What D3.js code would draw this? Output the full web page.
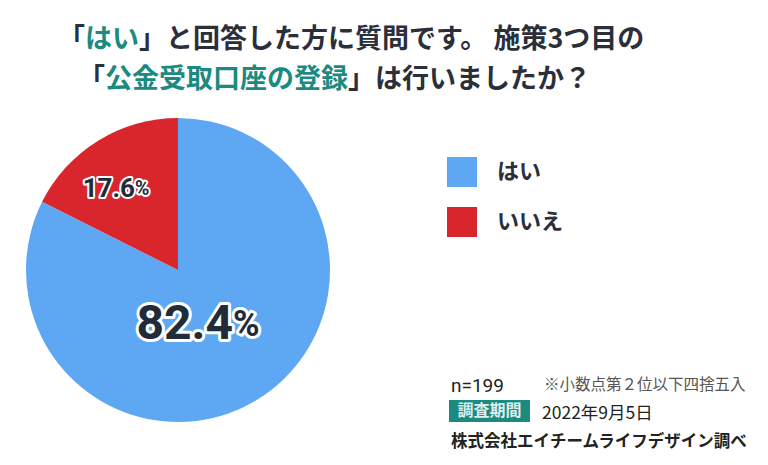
<!DOCTYPE html>
<html><head><meta charset="utf-8">
<script src="https://cdn.jsdelivr.net/npm/d3@7"></script>
<style>body{margin:0;background:#fff}svg{font-family:"Noto Sans CJK JP",sans-serif}</style>
</head><body>
<script>
const categories = ["はい", "いいえ"];
const values = [82.4, 17.6];
const colors = ["#5ea7f3", "#d8262c"];

const svg = d3.select("body").append("svg").attr("width", 768).attr("height", 465);

// title
const teal = "#1b8a80", dark = "#2a2f3a";
const t1 = svg.append("text").attr("x", 58).attr("y", 48).attr("font-size", 27).attr("font-weight", "bold").attr("fill", dark);
t1.append("tspan").text("「");
t1.append("tspan").attr("fill", teal).text("はい");
t1.append("tspan").text("」と回答した方に質問です。 施策3つ目の");
const t2 = svg.append("text").attr("x", 78).attr("y", 88).attr("font-size", 27).attr("font-weight", "bold").attr("fill", dark);
t2.append("tspan").text("「");
t2.append("tspan").attr("fill", teal).text("公金受取口座の登録");
t2.append("tspan").text("」は行いましたか？");

// pie: red counterclockwise from 12 o'clock, blue clockwise
const cx = 178, cy = 270, r = 152;
const pie = d3.pie().sort(null).value(d => d)
  .startAngle(0).endAngle(2 * Math.PI);
const arcs = pie(values);
const arc = d3.arc().innerRadius(0).outerRadius(r);
const g = svg.append("g").attr("transform", `translate(${cx},${cy})`);
g.selectAll("path").data(arcs).join("path")
  .attr("d", arc).attr("fill", (d, i) => colors[i]);

const labelPos = [[20, 56], [-62, -80]];
const sizes = [48, 26];
arcs.forEach((d, i) => {
  const t = g.append("text").attr("x", labelPos[i][0]).attr("y", labelPos[i][1])
    .attr("text-anchor", "middle").attr("dominant-baseline", "middle")
    .attr("font-family", "Roboto, sans-serif").attr("font-weight", "bold")
    .attr("fill", "#222b3a").attr("stroke", "#fff").attr("stroke-width", i ? 4 : 6)
    .attr("paint-order", "stroke").attr("stroke-linejoin", "round");
  t.append("tspan").attr("font-size", sizes[i]).text(values[i].toFixed(1));
  t.append("tspan").attr("font-size", sizes[i] * 0.75).text("%");
});

// legend
const lg = svg.append("g").attr("transform", "translate(447,157)");
categories.forEach((c, i) => {
  lg.append("rect").attr("y", i * 50).attr("width", 30).attr("height", 30).attr("fill", colors[i]);
  lg.append("text").attr("x", 50).attr("y", i * 50 + 16).attr("dominant-baseline", "middle")
    .attr("font-size", 22).attr("font-weight", "bold").attr("fill", dark).text(c);
});

// notes
svg.append("text").attr("x", 451).attr("y", 392).attr("font-size", 19).attr("font-family", "Roboto, sans-serif").attr("fill", "#222").text("n=199");
svg.append("text").attr("x", 544).attr("y", 390).attr("font-size", 15.5).attr("fill", "#555").text("※小数点第２位以下四捨五入");
svg.append("rect").attr("x", 449).attr("y", 400).attr("width", 81).attr("height", 22).attr("fill", teal);
svg.append("text").attr("x", 489.5).attr("y", 412).attr("text-anchor", "middle").attr("dominant-baseline", "middle")
  .attr("font-size", 16).attr("font-weight", "bold").attr("fill", "#dfeeee").text("調査期間");
svg.append("text").attr("x", 542).attr("y", 419).attr("font-size", 17.5).attr("fill", "#222").text("2022年9月5日");
svg.append("text").attr("x", 451).attr("y", 447).attr("font-size", 16.5).attr("font-weight", "bold").attr("fill", "#222").text("株式会社エイチームライフデザイン調べ");
</script>
</body></html>
